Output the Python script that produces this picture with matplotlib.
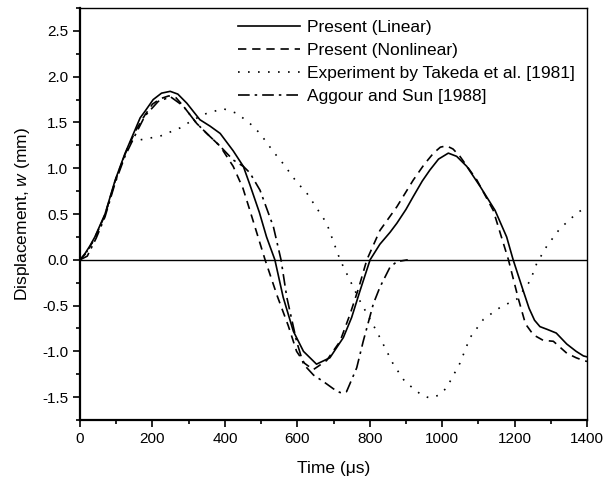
import matplotlib
matplotlib.use('Agg')
import matplotlib.pyplot as plt
from matplotlib.ticker import MultipleLocator

plt.rcParams['font.family'] = ['Liberation Sans', 'DejaVu Sans']
plt.rcParams['mathtext.fontset'] = 'custom'
plt.rcParams['mathtext.it'] = 'Liberation Sans:italic'
plt.rcParams['mathtext.rm'] = 'Liberation Sans'
plt.rcParams['axes.unicode_minus'] = False

# Present (Linear)
lin_t = [0, 14, 27, 41, 69, 97, 124, 152, 166, 179, 202, 225, 249, 270, 295, 331, 359, 387,
         423, 451, 469, 495, 515, 538, 561, 589, 617, 653, 690, 727, 750, 773, 801, 828, 856,
         875, 900, 920, 945, 966, 990, 1017, 1040, 1068, 1105, 1146, 1178, 1196, 1224, 1240,
         1255, 1270, 1290, 1315, 1344, 1370, 1390, 1400]
lin_w = [0, 0.07, 0.15, 0.25, 0.5, 0.87, 1.16, 1.42, 1.55, 1.62, 1.75, 1.82, 1.84, 1.81, 1.71,
         1.53, 1.46, 1.38, 1.19, 1.02, 0.82, 0.52, 0.25, 0.0, -0.41, -0.78, -1.0, -1.14, -1.07,
         -0.85, -0.63, -0.34, 0.0, 0.17, 0.30, 0.40, 0.55, 0.69, 0.86, 0.98, 1.10, 1.165, 1.13,
         1.02, 0.80, 0.54, 0.25, 0.0, -0.34, -0.53, -0.66, -0.73, -0.76, -0.80, -0.92, -1.00,
         -1.05, -1.06]

# Present (Nonlinear)
nl_t = [0, 14, 27, 41, 69, 97, 124, 152, 179, 200, 222, 245, 265, 285, 322, 350, 387, 423,
        450, 469, 490, 511, 545, 575, 598, 620, 644, 681, 718, 746, 770, 792, 828, 875, 920,
        950, 976, 995, 1012, 1030, 1049, 1096, 1141, 1183, 1210, 1230, 1252, 1279, 1307, 1344,
        1370, 1390, 1400]
nl_w = [0, 0.06, 0.14, 0.24, 0.49, 0.86, 1.15, 1.40, 1.58, 1.70, 1.76, 1.79, 1.77, 1.68, 1.49,
        1.38, 1.24, 1.02, 0.78, 0.54, 0.27, 0.0, -0.40, -0.72, -1.0, -1.13, -1.2, -1.10, -0.89,
        -0.59, -0.30, 0.0, 0.32, 0.58, 0.87, 1.04, 1.165, 1.23, 1.245, 1.21, 1.13, 0.87, 0.54,
        0.0, -0.42, -0.70, -0.82, -0.88, -0.89, -1.02, -1.07, -1.10, -1.11]

# Experiment by Takeda et al. [1981]
exp_t = [0, 14, 27, 41, 69, 97, 125, 138, 166, 221, 276, 313, 350, 396, 433, 469, 497, 534,
         561, 598, 626, 681, 718, 773, 819, 865, 897, 944, 966, 990, 1012, 1049, 1077, 1114,
         1160, 1206, 1243, 1261, 1289, 1325, 1372, 1400]
exp_w = [0, 0.06, 0.14, 0.24, 0.49, 0.86, 1.16, 1.29, 1.31, 1.35, 1.44, 1.53, 1.60, 1.65, 1.60,
         1.49, 1.38, 1.18, 1.05, 0.85, 0.73, 0.40, 0.0, -0.45, -0.78, -1.14, -1.33, -1.48,
         -1.51, -1.48, -1.40, -1.13, -0.85, -0.65, -0.52, -0.43, -0.23, -0.04, 0.15, 0.34,
         0.51, 0.58]

# Aggour and Sun [1988]
ag_t = [0, 20, 45, 69, 97, 124, 152, 179, 216, 250, 285, 322, 350, 387, 423, 451, 469, 497,
        534, 555, 571, 598, 617, 645, 672, 700, 718, 736, 764, 782, 810, 828, 856, 875, 905]
ag_w = [0, 0.04, 0.24, 0.47, 0.84, 1.13, 1.36, 1.57, 1.73, 1.78, 1.68, 1.49, 1.38, 1.24, 1.09,
        1.02, 0.95, 0.76, 0.36, 0.0, -0.41, -0.89, -1.14, -1.26, -1.33, -1.41, -1.45, -1.44,
        -1.18, -0.89, -0.48, -0.30, -0.08, -0.02, 0.0]

fig = plt.figure(figsize=(6.04, 4.83), dpi=100)
ax = fig.add_axes([0.1325, 0.1304, 0.8394, 0.853])

ax.axhline(0, color='black', lw=1.0)
ax.plot(lin_t, lin_w, color='black', lw=1.2, ls='-', label='Present (Linear)')
ax.plot(nl_t, nl_w, color='black', lw=1.2, ls=(0, (5, 3.5)), label='Present (Nonlinear)')
ax.plot(exp_t, exp_w, color='black', lw=1.2, ls=(0, (1, 5)), label='Experiment by Takeda et al. [1981]')
ax.plot(ag_t, ag_w, color='black', lw=1.2, ls=(0, (7, 3, 1.5, 3)), label='Aggour and Sun [1988]')

ax.set_xlim(0, 1400)
ax.set_ylim(-1.75, 2.75)
ax.xaxis.set_major_locator(MultipleLocator(200))
ax.xaxis.set_minor_locator(MultipleLocator(100))
ax.yaxis.set_major_locator(MultipleLocator(0.5))
ax.yaxis.set_minor_locator(MultipleLocator(0.25))
ax.yaxis.set_major_formatter(plt.FormatStrFormatter('%.1f'))

ax.tick_params(which='both', direction='out', top=False, right=False, labelsize=11, width=1.2)
ax.tick_params(which='major', length=5)
ax.tick_params(which='minor', length=3)
for s in ['left', 'bottom']:
    ax.spines[s].set_linewidth(1.6)
for s in ['top', 'right']:
    ax.spines[s].set_linewidth(1.0)

ax.set_xlabel('Time (μs)', fontsize=12.5, labelpad=11)
ax.set_ylabel('Displacement, $w$ (mm)', fontsize=12.5, labelpad=7)

ax.legend(loc='upper right', frameon=False, fontsize=12.5, handlelength=3.6,
          labelspacing=0.45, borderaxespad=0.3, handletextpad=0.4)

fig.savefig('out.png', dpi=100)
